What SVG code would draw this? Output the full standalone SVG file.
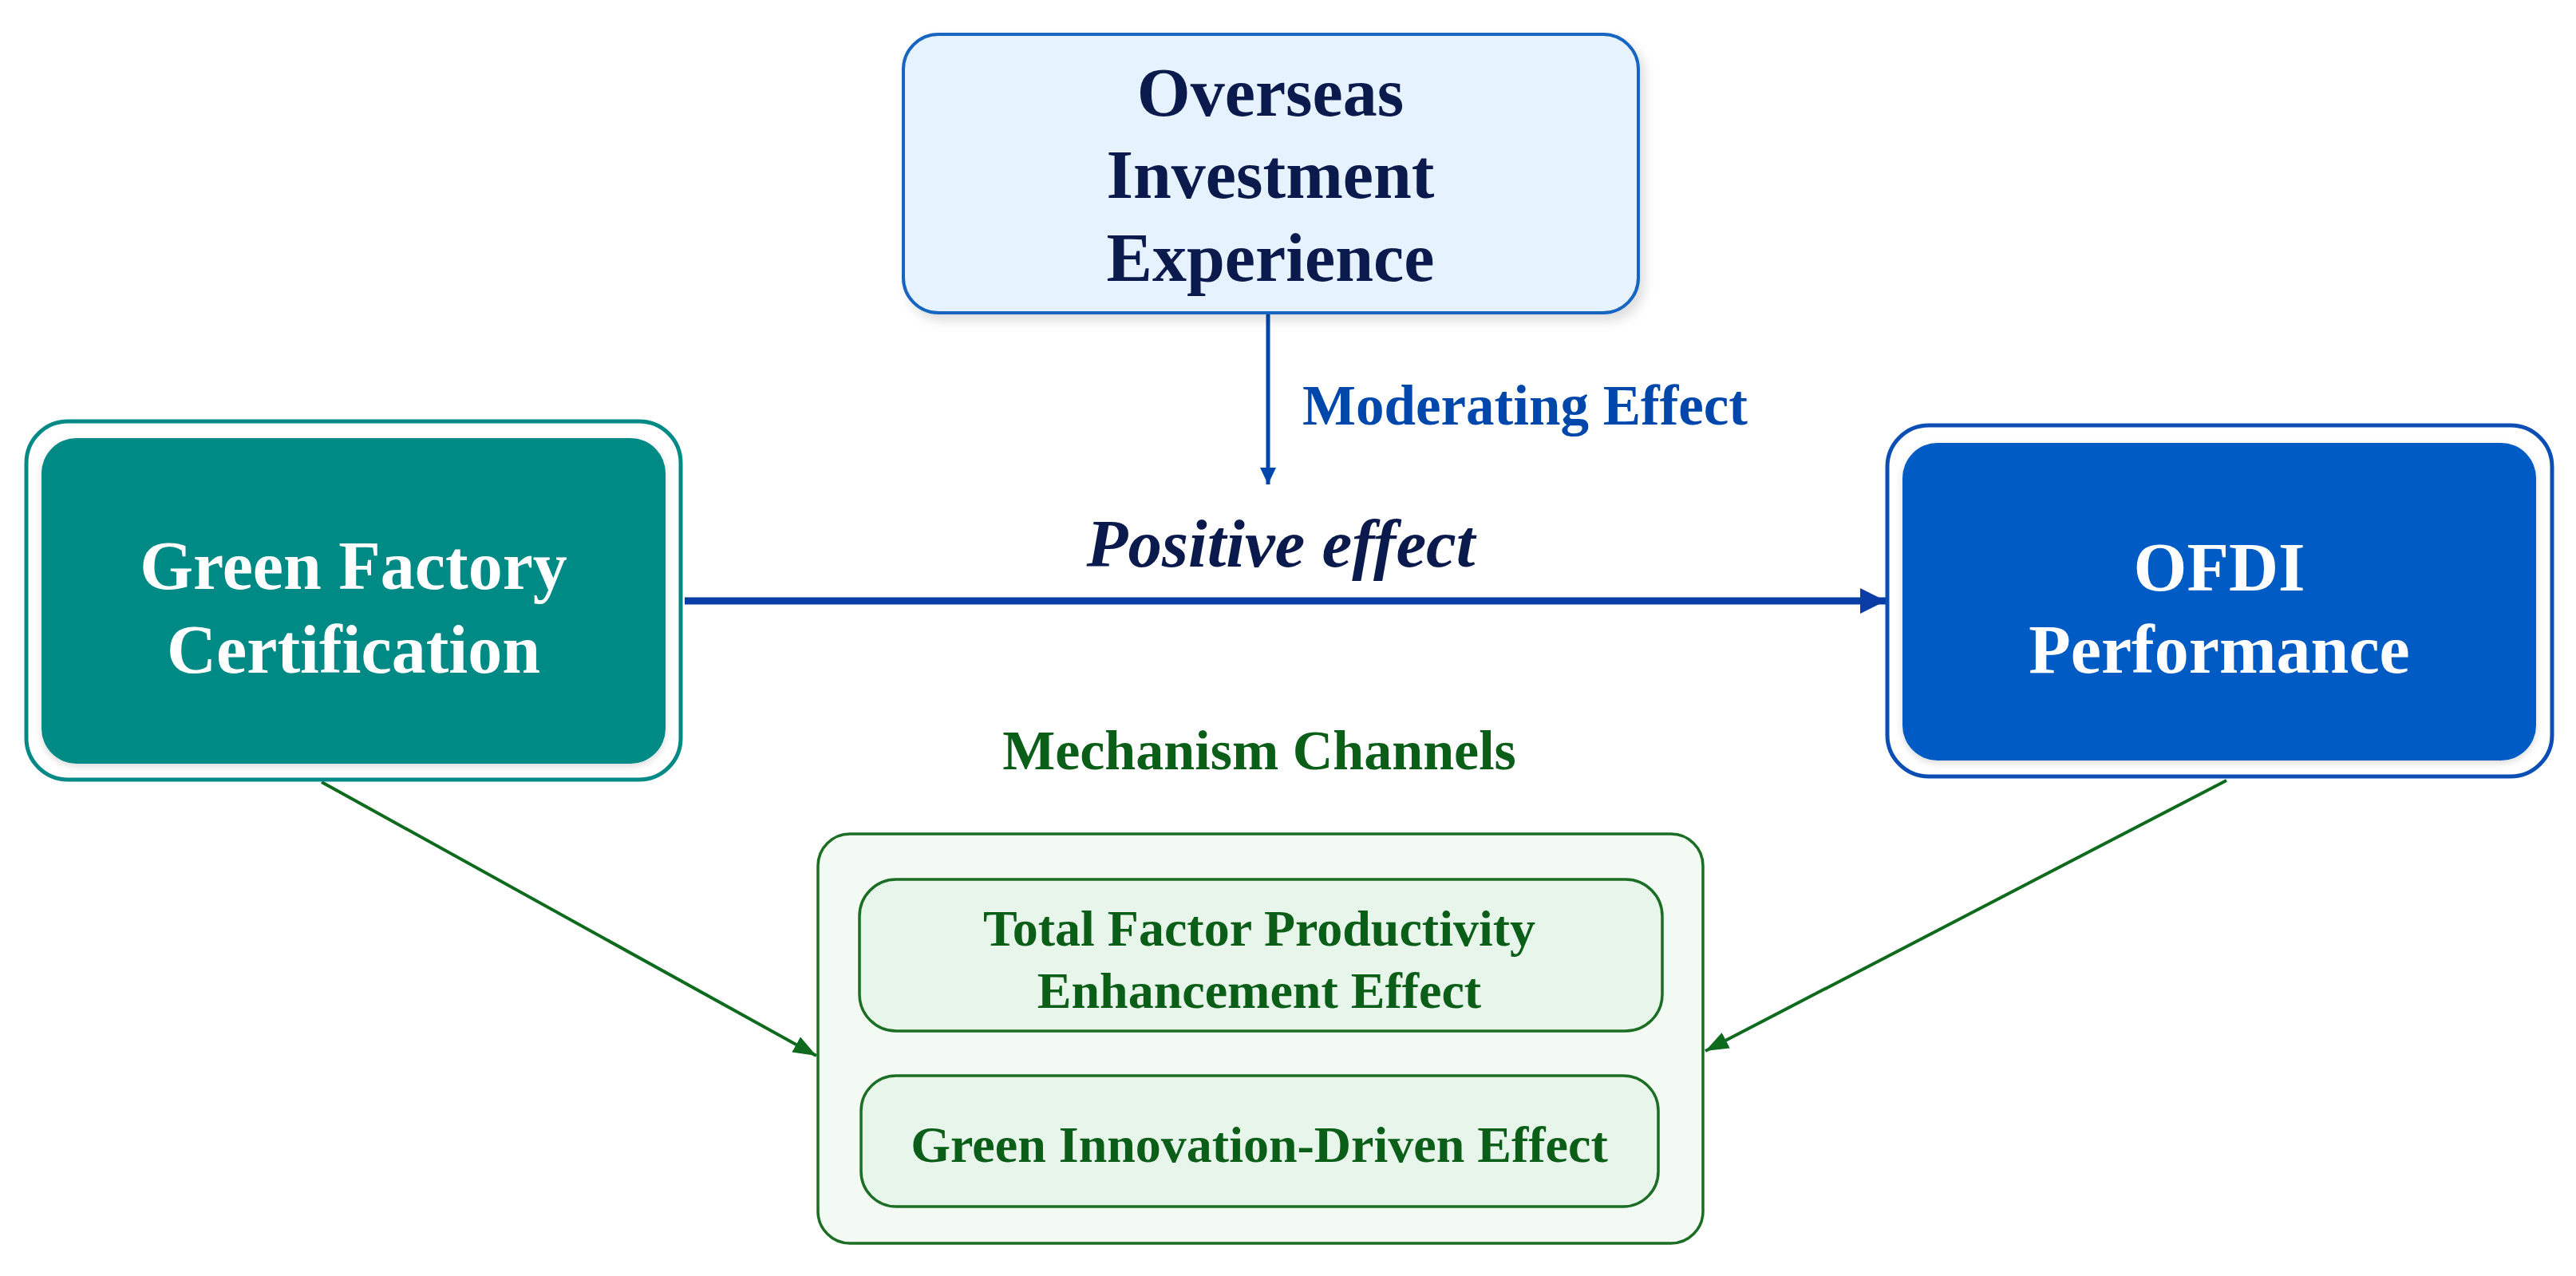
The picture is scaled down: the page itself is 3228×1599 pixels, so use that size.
<svg xmlns="http://www.w3.org/2000/svg" width="3228" height="1599" viewBox="0 0 3228 1599">
<defs>
<style>
.lbl{font-family:"Liberation Serif","Times New Roman",serif;font-weight:bold;text-anchor:middle}
.main{font-size:86px}
.wht{fill:#ffffff}
.navy{fill:#0a1a4c}
.grn{fill:#0b5e17}
.sub{font-size:64px}
</style>
<filter id="sh" x="-10%" y="-10%" width="125%" height="130%">
<feDropShadow dx="6" dy="8" stdDeviation="7" flood-color="#000" flood-opacity="0.13"/>
</filter>
<filter id="glow" x="-5%" y="-5%" width="110%" height="110%">
<feDropShadow dx="0" dy="3" stdDeviation="4" flood-color="#000" flood-opacity="0.15"/>
</filter>
<marker id="ahBlue" markerUnits="userSpaceOnUse" markerWidth="34" markerHeight="34" refX="32" refY="16" orient="auto">
<path d="M0,0 L32,16 L0,32 Z" fill="#0a3ea6"/>
</marker>
<marker id="ahBlueS" markerUnits="userSpaceOnUse" markerWidth="22" markerHeight="22" refX="21" refY="10" orient="auto">
<path d="M0,0 L21,10 L0,20 Z" fill="#0047ab"/>
</marker>
<marker id="ahGreen" markerUnits="userSpaceOnUse" markerWidth="30" markerHeight="24" refX="29" refY="11" orient="auto">
<path d="M0,0 L29,11 L0,22 Z" fill="#0e6a1c"/>
</marker>
</defs>
<rect width="3228" height="1599" fill="#ffffff"/>

<g id="connectors">
<line x1="858" y1="753" x2="2363" y2="753" stroke="#0a3ea6" stroke-width="9" marker-end="url(#ahBlue)"/>
<line x1="1589" y1="393" x2="1589" y2="607" stroke="#0047ab" stroke-width="5" marker-end="url(#ahBlueS)"/>
<line x1="403" y1="980" x2="1023" y2="1323" stroke="#0e6a1c" stroke-width="4" marker-end="url(#ahGreen)"/>
<line x1="2790" y1="978" x2="2137" y2="1317" stroke="#0e6a1c" stroke-width="4" marker-end="url(#ahGreen)"/>
<text x="1605" y="710" class="lbl navy" font-size="85" font-style="italic">Positive effect</text>
<text x="1911" y="532" class="lbl" font-size="71" fill="#0047ab">Moderating Effect</text>
</g>

<g id="node-overseas">
<rect x="1132" y="43" width="921" height="349" rx="44" fill="#e6f2fd" stroke="#1565c0" stroke-width="4" filter="url(#sh)"/>
<text x="1592" y="145" class="lbl main navy">Overseas</text>
<text x="1592" y="248" class="lbl main navy">Investment</text>
<text x="1592" y="352" class="lbl main navy">Experience</text>
</g>

<g id="node-green-factory">
<rect x="33" y="528" width="820" height="449" rx="52" fill="#ffffff" stroke="#038a86" stroke-width="5"/>
<rect x="52" y="549" width="782" height="408" rx="44" fill="#028a86" filter="url(#glow)"/>
<text x="443" y="738" class="lbl main wht">Green Factory</text>
<text x="443" y="843" class="lbl main wht">Certification</text>
</g>

<g id="node-ofdi">
<rect x="2365" y="533" width="833" height="440" rx="52" fill="#ffffff" stroke="#0b4fb5" stroke-width="5"/>
<rect x="2384" y="555" width="794" height="398" rx="44" fill="#055cc4" filter="url(#glow)"/>
<text x="2781" y="740" class="lbl main wht">OFDI</text>
<text x="2781" y="843" class="lbl main wht">Performance</text>
</g>

<g id="node-mechanism">
<text x="1578" y="964" class="lbl grn" font-size="70">Mechanism Channels</text>
<rect x="1025" y="1045" width="1109" height="513" rx="40" fill="#f3faf4" stroke="#1b6e24" stroke-width="3.5"/>
</g>

<g id="node-tfp">
<rect x="1077" y="1102" width="1006" height="190" rx="46" fill="#e8f5ea" stroke="#1b6e24" stroke-width="3.5"/>
<text x="1578" y="1185" class="lbl sub grn">Total Factor Productivity</text>
<text x="1578" y="1263" class="lbl sub grn">Enhancement Effect</text>
</g>

<g id="node-gid">
<rect x="1079" y="1348" width="999" height="164" rx="44" fill="#e8f5ea" stroke="#1b6e24" stroke-width="3.5"/>
<text x="1578" y="1456" class="lbl sub grn">Green Innovation-Driven Effect</text>
</g>
</svg>
